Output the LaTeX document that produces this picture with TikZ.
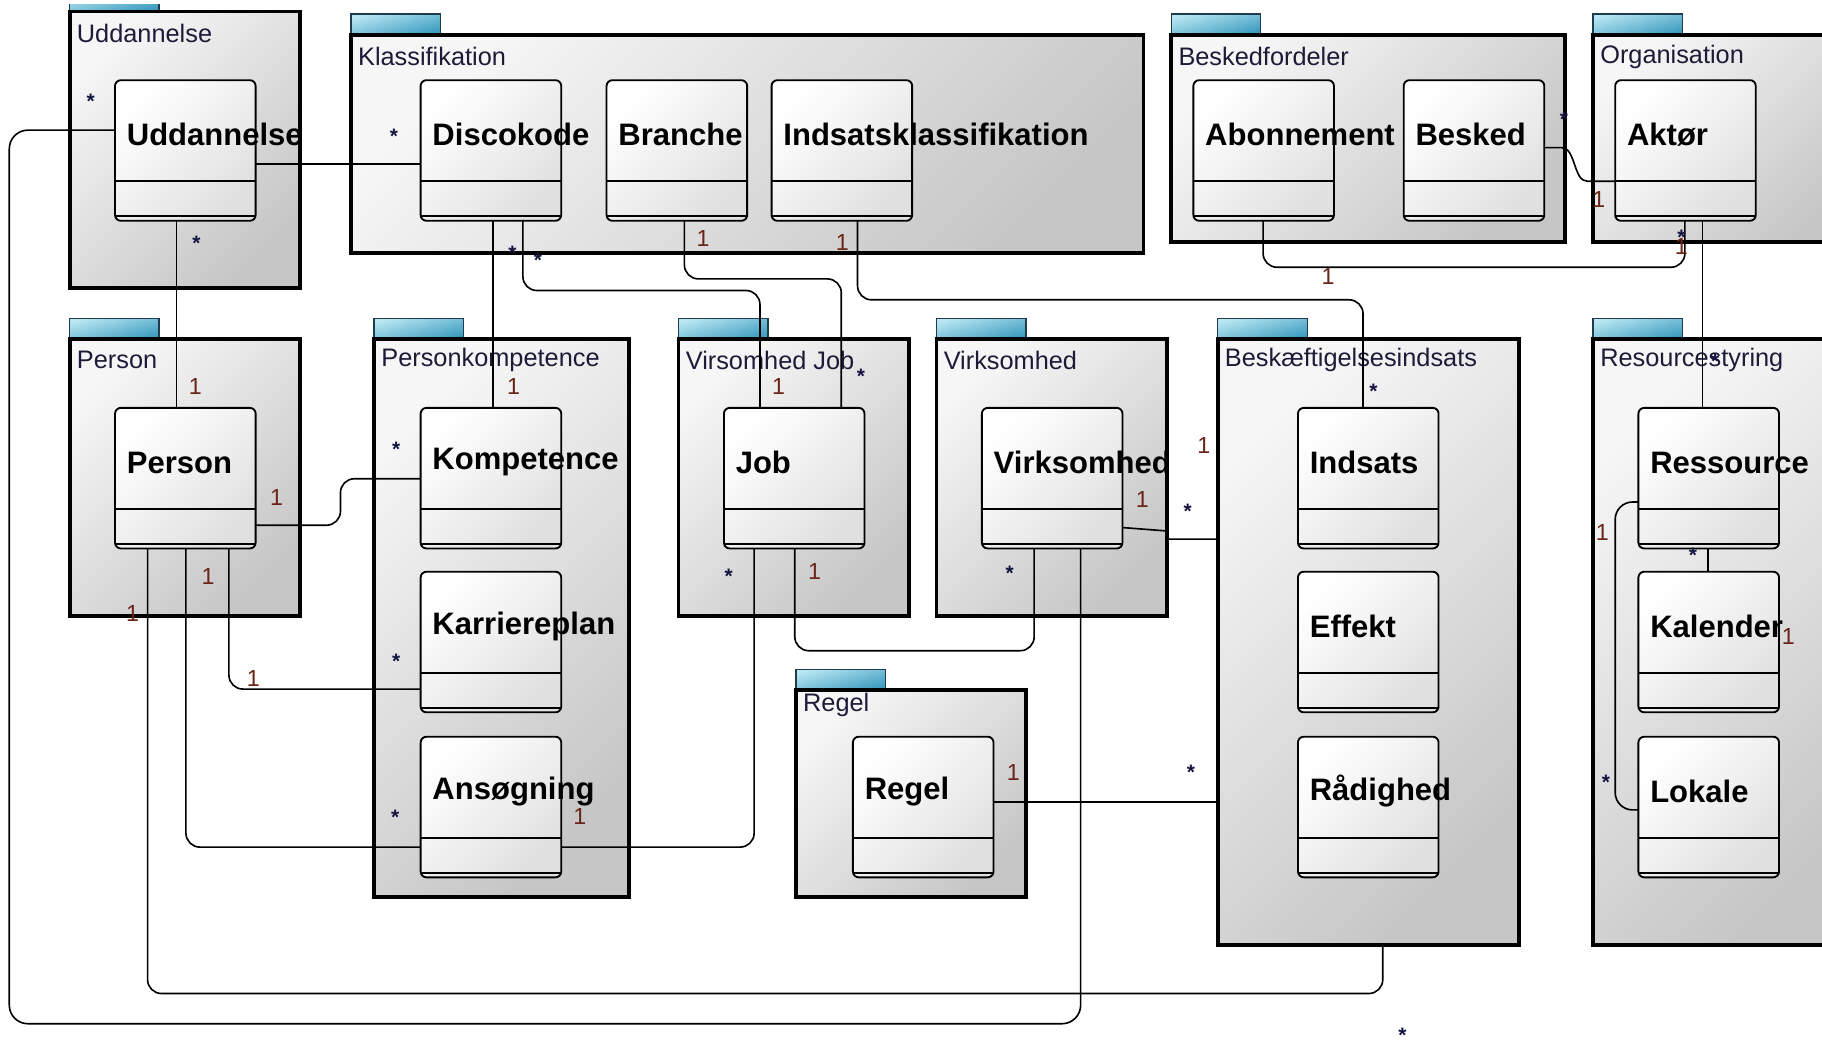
\documentclass[tikz,border=0pt]{standalone}
\usepackage{fontspec}
\setmainfont{Liberation Sans}
\usetikzlibrary{calc}
\definecolor{pkgA}{HTML}{F6F6F6}
\definecolor{pkgB}{HTML}{C6C6C6}
\definecolor{clsB}{HTML}{E0E0E0}
\definecolor{tabA}{HTML}{B8E6F2}
\definecolor{tabB}{HTML}{3C9CC0}
\definecolor{tabline}{HTML}{1E3C4C}
\definecolor{titlecol}{HTML}{1C1C38}
\definecolor{onecol}{HTML}{6A2418}
\definecolor{starcol}{HTML}{141440}
\tikzset{
  pkgbody/.style={draw=black, line width=3.2pt, top color=pkgA, bottom color=pkgB, shading angle=45, inner sep=0pt, outer sep=0pt, anchor=north west},
  pkgtab/.style={draw=tabline, line width=1.2pt, top color=tabA, bottom color=tabB, shading angle=15},
  clsbox/.style={draw=black, line width=1.6pt, rounded corners=5pt, top color=white, bottom color=clsB, shading angle=45, minimum width=121pt, minimum height=121pt, inner sep=0pt, outer sep=0pt, anchor=north west},
  clsline/.style={line width=1.6pt},
  clsname/.style={font=\bfseries\fontsize{26.7}{28}\selectfont, anchor=west, inner sep=0pt},
  pkgtitle/.style={font=\fontsize{21.8}{24}\selectfont, text=titlecol, anchor=west, inner sep=0pt},
  conn/.style={line width=1.4pt, rounded corners=12pt},
  mone/.style={font=\fontsize{20}{22}\selectfont, text=onecol, inner sep=0pt},
  mstar/.style={font=\bfseries\fontsize{18}{20}\selectfont, text=starcol, inner sep=0pt, yshift=-4pt},
}
\newcommand\umlpkg[7]{%
  \draw[pkgtab] (#2,#3) rectangle ++(77,-18);
  \node[pkgbody, minimum width=#4pt, minimum height=#5pt] (#1) at (#2,#3) {};
  \node[pkgtitle] (#1-t) at ($(#1.north west)+(6,#7)$) {#6};
}
\newcommand\umlcls[4]{%
  \node[clsbox] (#1) at (#2,#3) {};
  \draw[clsline] ($(#1.north west)+(0,87)$) -- ($(#1.north east)+(0,87)$);
  \draw[clsline] ($(#1.north west)+(0,117)$) -- ($(#1.north east)+(0,117)$);
  \node[clsname] (#1-t) at ($(#1.north west)+(10,47)$) {#4};
}
\begin{document}
\begin{tikzpicture}[x=1pt,y=-1pt]
\useasboundingbox (0,0) rectangle (1568,898);
\fill[white] (0,0) rectangle (1568,898);
\clip (0,3.5) rectangle (1568,898);
% packages
\umlpkg{pUdd}{60}{10}{198}{238}{Uddannelse}{19}
\umlpkg{pKlas}{302}{30}{682}{188}{Klassifikation}{19}
\umlpkg{pBesk}{1008}{30}{339}{178}{Beskedfordeler}{19}
\umlpkg{pOrg}{1371}{30}{230}{178}{Organisation}{19}
\umlpkg{pPers}{60}{292}{198}{238}{Person}{18}
\umlpkg{pPK}{322}{292}{219}{480}{Personkompetence}{18}
\umlpkg{pVJ}{584}{292}{198}{238}{Virsomhed Job}{18}
\umlpkg{pVirk}{806}{292}{198}{238}{Virksomhed}{18}
\umlpkg{pRegel}{685}{594}{198}{178}{Regel}{13}
\umlpkg{pBeskI}{1048}{292}{259}{521}{Beskæftigelsesindsats}{18}
\umlpkg{pRes}{1371}{292}{230}{521}{Resourcestyring}{18}
% classes
\umlcls{cUdd}{99}{69}{Uddannelse}
\umlcls{cDisco}{362}{69}{Discokode}
\umlcls{cBranche}{522}{69}{Branche}
\umlcls{cIndsk}{664}{69}{Indsatsklassifikation}
\umlcls{cAbon}{1027}{69}{Abonnement}
\umlcls{cBesked}{1208}{69}{Besked}
\umlcls{cAktor}{1390}{69}{Aktør}
\umlcls{cPerson}{99}{351}{Person}
\umlcls{cKomp}{362}{351}{Kompetence}
\umlcls{cKarr}{362}{492}{Karriereplan}
\umlcls{cAns}{362}{634}{Ansøgning}
\umlcls{cJob}{623}{351}{Job}
\umlcls{cVirk}{845}{351}{Virksomhed}
\umlcls{cRegel}{734}{634}{Regel}
\umlcls{cIndsats}{1117}{351}{Indsats}
\umlcls{cEffekt}{1117}{492}{Effekt}
\umlcls{cRaad}{1117}{634}{Rådighed}
\umlcls{cRes}{1410}{351}{Ressource}
\umlcls{cKal}{1410}{492}{Kalender}
\umlcls{cLok}{1410}{634}{Lokale}
% connectors
\draw[conn, rounded corners=16pt] ($(cUdd.north west)+(0,43)$) -- (8,112) -- (8,881) -- (930,881) -- ($(cVirk.south west)+(85,0)$);
\draw[conn] ($(cUdd.south west)+(53,0)$) -- ($(cPerson.north west)+(53,0)$);
\draw[conn] ($(cUdd.north east)+(0,72)$) -- ($(cDisco.north west)+(0,72)$);
\draw[conn] ($(cDisco.south west)+(62,0)$) -- ($(cKomp.north west)+(62,0)$);
\draw[conn] ($(cDisco.south west)+(88,0)$) -- (450,250) -- (654,250) -- ($(cJob.north west)+(31,0)$);
\draw[conn] ($(cBranche.south west)+(67,0)$) -- (589,240) -- (724,240) -- ($(cJob.north west)+(101,0)$);
\draw[conn] ($(cIndsk.south west)+(74,0)$) -- (738,258) -- (1173,258) -- ($(cIndsats.north west)+(56,0)$);
\draw[conn] ($(cAbon.south west)+(60,0)$) -- (1087,230) -- (1450,230) -- ($(cAktor.south west)+(60,0)$);
\draw[conn, rounded corners=0pt] ($(cBesked.north east)+(0,58)$) -- (1344,127) .. controls (1356,127) and (1354,156) .. (1366,156) -- ($(cAktor.north west)+(0,87)$);
\draw[conn] ($(cAktor.south west)+(75,0)$) -- ($(cRes.north west)+(55,0)$);
\draw[conn] ($(cRes.south west)+(60,0)$) -- ($(cKal.north west)+(60,0)$);
\draw[conn, rounded corners=15pt] ($(cRes.north west)+(0,81)$) -- (1390,432) -- (1390,697) -- ($(cLok.north west)+(0,63)$);
\draw[conn] ($(cPerson.north east)+(0,101)$) -- (293,452) -- (293,412) -- ($(cKomp.north west)+(0,61)$);
\draw[conn] ($(cPerson.south west)+(98,0)$) -- (197,593) -- ($(cKarr.north west)+(0,101)$);
\draw[conn] ($(cPerson.south west)+(61,0)$) -- (160,729) -- ($(cAns.north west)+(0,95)$);
\draw[conn] ($(cPerson.south west)+(28,0)$) -- (127,855) -- (1190,855) -- ($(pBeskI.south west)+(142,0)$);
\draw[conn] ($(cAns.north east)+(0,95)$) -- (649,729) -- ($(cJob.south west)+(26,0)$);
\draw[conn] ($(cJob.south west)+(61,0)$) -- (684,560) -- (890,560) -- ($(cVirk.south west)+(45,0)$);
\draw[conn, rounded corners=1pt] ($(cVirk.north east)+(0,103)$) -- (1005,457) -- (1005,464) -- ($(pBeskI.north west)+(0,172)$);
\draw[conn] ($(cRegel.north east)+(0,56)$) -- ($(pBeskI.north west)+(0,398)$);
% multiplicities: *
\node[mstar] (s1) at (78,83) {*};
\node[mstar] (s2) at (169,205) {*};
\node[mstar] (s3) at (339,113) {*};
\node[mstar] (s4) at (441,214) {*};
\node[mstar] (s5) at (463,220) {*};
\node[mstar] (s6) at (1346,99) {*};
\node[mstar] (s7) at (741,320) {*};
\node[mstar] (s8) at (1182,333) {*};
\node[mstar] (s9) at (1476,307) {*};
\node[mstar] (s10) at (341,383) {*};
\node[mstar] (s11) at (1022,436) {*};
\node[mstar] (s12) at (1457,474) {*};
\node[mstar] (s13) at (627,492) {*};
\node[mstar] (s14) at (869,489) {*};
\node[mstar] (s15) at (341,565) {*};
\node[mstar] (s16) at (1025,661) {*};
\node[mstar] (s17) at (1382,669) {*};
\node[mstar] (s18) at (340,699) {*};
\node[mstar] (s19) at (1207,887) {*};
\node[mstar] (s20) at (1447,200) {*};
% multiplicities: 1
\node[mone] (o1) at (605,205) {1};
\node[mone] (o2) at (725,209) {1};
\node[mone] (o3) at (1376,172) {1};
\node[mone] (o4) at (1447,212) {1};
\node[mone] (o5) at (1143,238) {1};
\node[mone] (o6) at (168,333) {1};
\node[mone] (o7) at (442,333) {1};
\node[mone] (o8) at (670,333) {1};
\node[mone] (o9) at (238,428) {1};
\node[mone] (o10) at (1036,383) {1};
\node[mone] (o11) at (983,430) {1};
\node[mone] (o12) at (1379,458) {1};
\node[mone] (o13) at (179,496) {1};
\node[mone] (o14) at (114,528) {1};
\node[mone] (o15) at (701,492) {1};
\node[mone] (o16) at (1539,548) {1};
\node[mone] (o17) at (218,584) {1};
\node[mone] (o18) at (872,665) {1};
\node[mone] (o19) at (499,703) {1};
\end{tikzpicture}
\end{document}
